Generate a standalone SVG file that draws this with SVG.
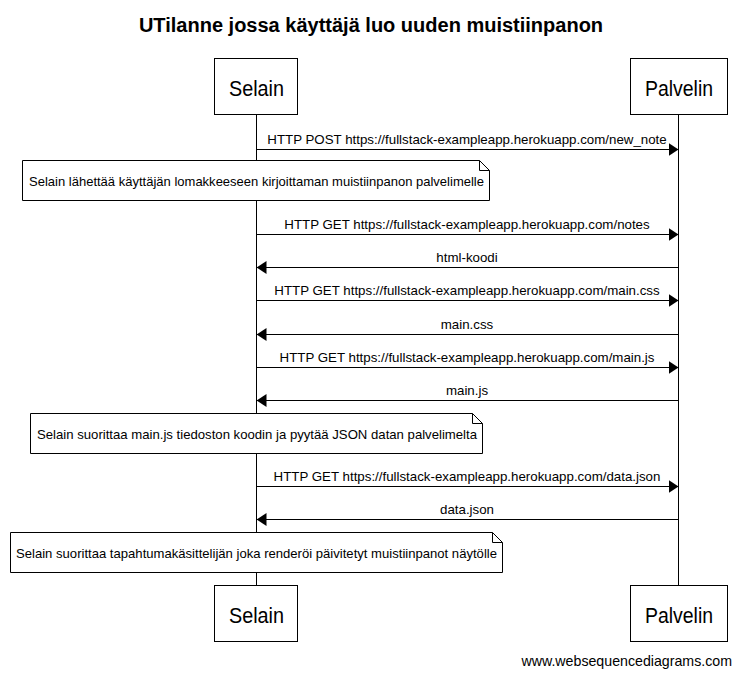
<svg xmlns="http://www.w3.org/2000/svg" width="741" height="676" viewBox="0 0 741 676">
<style>
text{font-family:"Liberation Sans",Arial,sans-serif;fill:#000}
.title{font-size:20px;font-weight:bold}
.part{font-size:22px}
.msg{font-size:13.3px}
.note{font-size:13.3px}
.wm{font-size:14.2px}
.box{fill:#fff;stroke:#000;stroke-width:1}
.life{stroke:#000;stroke-width:1;fill:none}
.arr{stroke:#000;stroke-width:1;fill:none}
.nb{fill:#fff;stroke:#000;stroke-width:1}
</style>
<defs>
<marker id="ah" viewBox="0 0 10 13" refX="10" refY="6.5" markerWidth="10" markerHeight="13" markerUnits="userSpaceOnUse" orient="auto">
<path d="M0,0 L10,6.5 L0,13 Z" fill="#000"/>
</marker>
</defs>
<rect width="741" height="676" fill="#fff"/>
<text class="title" x="371" y="32" text-anchor="middle">UTilanne jossa käyttäjä luo uuden muistiinpanon</text>

<g id="lifelines">
<line class="life" x1="256.5" y1="114" x2="256.5" y2="585"/>
<line class="life" x1="678.5" y1="114" x2="678.5" y2="585"/>
</g>

<g id="selain-top">
<rect class="box" x="214.5" y="58.5" width="83" height="56"/>
<text class="part" x="256.5" y="96" text-anchor="middle" textLength="55" lengthAdjust="spacingAndGlyphs">Selain</text>
</g>
<g id="palvelin-top">
<rect class="box" x="630.5" y="58.5" width="97" height="56"/>
<text class="part" x="679" y="96" text-anchor="middle" textLength="68" lengthAdjust="spacingAndGlyphs">Palvelin</text>
</g>

<g id="connectors">
<line class="arr" x1="256.5" y1="149.5" x2="678.5" y2="149.5" marker-end="url(#ah)"/>
<text class="msg" x="467" y="144" text-anchor="middle">HTTP POST https://fullstack-exampleapp.herokuapp.com/new_note</text>

<line class="arr" x1="256.5" y1="234.5" x2="678.5" y2="234.5" marker-end="url(#ah)"/>
<text class="msg" x="467" y="229" text-anchor="middle">HTTP GET https://fullstack-exampleapp.herokuapp.com/notes</text>

<line class="arr" x1="678.5" y1="267.5" x2="256.5" y2="267.5" marker-end="url(#ah)"/>
<text class="msg" x="467" y="262" text-anchor="middle">html-koodi</text>

<line class="arr" x1="256.5" y1="300.5" x2="678.5" y2="300.5" marker-end="url(#ah)"/>
<text class="msg" x="467" y="295" text-anchor="middle">HTTP GET https://fullstack-exampleapp.herokuapp.com/main.css</text>

<line class="arr" x1="678.5" y1="334.5" x2="256.5" y2="334.5" marker-end="url(#ah)"/>
<text class="msg" x="467" y="329" text-anchor="middle">main.css</text>

<line class="arr" x1="256.5" y1="367.5" x2="678.5" y2="367.5" marker-end="url(#ah)"/>
<text class="msg" x="467" y="362" text-anchor="middle">HTTP GET https://fullstack-exampleapp.herokuapp.com/main.js</text>

<line class="arr" x1="678.5" y1="400.5" x2="256.5" y2="400.5" marker-end="url(#ah)"/>
<text class="msg" x="467" y="395" text-anchor="middle">main.js</text>

<line class="arr" x1="256.5" y1="486.5" x2="678.5" y2="486.5" marker-end="url(#ah)"/>
<text class="msg" x="467" y="481" text-anchor="middle">HTTP GET https://fullstack-exampleapp.herokuapp.com/data.json</text>

<line class="arr" x1="678.5" y1="519.5" x2="256.5" y2="519.5" marker-end="url(#ah)"/>
<text class="msg" x="467" y="514" text-anchor="middle">data.json</text>
</g>

<g id="note1">
<path class="nb" d="M22.5,160.5 H479.5 L489.5,170.5 V200.5 H22.5 Z"/>
<path class="life" d="M479.5,160.5 V170.5 H489.5"/>
<text class="note" x="256.5" y="186" text-anchor="middle" textLength="455" lengthAdjust="spacingAndGlyphs">Selain lähettää käyttäjän lomakkeeseen kirjoittaman muistiinpanon palvelimelle</text>
</g>
<g id="note2">
<path class="nb" d="M30.5,413.5 H472.5 L482.5,423.5 V453.5 H30.5 Z"/>
<path class="life" d="M472.5,413.5 V423.5 H482.5"/>
<text class="note" x="257" y="439" text-anchor="middle" textLength="440" lengthAdjust="spacingAndGlyphs">Selain suorittaa main.js tiedoston koodin ja pyytää JSON datan palvelimelta</text>
</g>
<g id="note3">
<path class="nb" d="M10.5,532.5 H492.5 L502.5,542.5 V572.5 H10.5 Z"/>
<path class="life" d="M492.5,532.5 V542.5 H502.5"/>
<text class="note" x="256.5" y="558" text-anchor="middle" textLength="481" lengthAdjust="spacingAndGlyphs">Selain suorittaa tapahtumakäsittelijän joka renderöi päivitetyt muistiinpanot näytölle</text>
</g>

<g id="selain-bottom">
<rect class="box" x="214.5" y="585.5" width="83" height="56"/>
<text class="part" x="256.5" y="623" text-anchor="middle" textLength="55" lengthAdjust="spacingAndGlyphs">Selain</text>
</g>
<g id="palvelin-bottom">
<rect class="box" x="630.5" y="585.5" width="97" height="56"/>
<text class="part" x="679" y="623" text-anchor="middle" textLength="68" lengthAdjust="spacingAndGlyphs">Palvelin</text>
</g>

<text class="wm" x="732" y="666" text-anchor="end">www.websequencediagrams.com</text>
</svg>
